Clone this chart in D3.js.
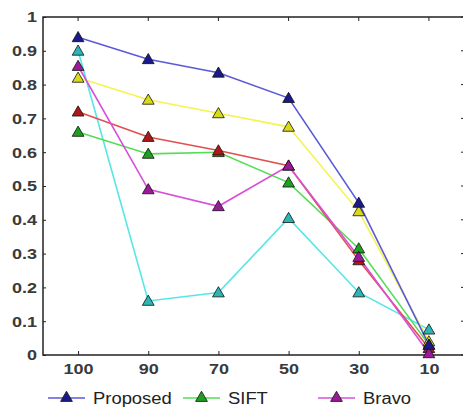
<!DOCTYPE html>
<html><head><meta charset="utf-8">
<script src="https://cdn.jsdelivr.net/npm/d3@7"></script>
<style>body{margin:0;background:#fff;}svg{display:block;}</style>
</head><body>
<svg id="c" width="463" height="414"></svg>
<script>
const categories = ["100","90","70","50","30","10"];
const yTicks = [0,0.1,0.2,0.3,0.4,0.5,0.6,0.7,0.8,0.9,1];
const proposed = [0.94,0.875,0.835,0.76,0.45,0.03];
const yellowSeries = [0.82,0.755,0.715,0.675,0.425,0.04];
const redSeries = [0.72,0.645,0.605,0.56,0.28,0.02];
const sift = [0.66,0.595,0.60,0.51,0.315,0.03];
const bravo = [0.855,0.49,0.44,0.56,0.29,0.005];
const cyanSeries = [0.90,0.16,0.185,0.405,0.185,0.075];

const series = [
  {name:"Cyan", values:cyanSeries, line:"#55e6e6", fill:"#2bb5b5"},
  {name:"Yellow", values:yellowSeries, line:"#f4f450", fill:"#d9d920"},
  {name:"SIFT", values:sift, line:"#55dd55", fill:"#1f9f1f"},
  {name:"Red", values:redSeries, line:"#e05050", fill:"#b01818"},
  {name:"Bravo", values:bravo, line:"#d84fd8", fill:"#9a1a9a"},
  {name:"Proposed", values:proposed, line:"#5a5ad8", fill:"#1a1a8a"}
];

const svg = d3.select("#c");
const L = 43, T = 17, B = 355, R = 464;
const x = d3.scaleLinear().domain([-0.5, 5.5]).range([L, R]);
const y = d3.scaleLinear().domain([0,1]).range([B, T]);

const font = "Liberation Sans, Arial, sans-serif";
function stretch(sel, k){
  sel.each(function(){
    const w = this.getComputedTextLength();
    d3.select(this).attr("textLength", w*k).attr("lengthAdjust","spacingAndGlyphs");
  });
}

// frame
svg.append("rect").attr("x",L).attr("y",T).attr("width",R-L).attr("height",B-T)
  .attr("fill","none").attr("stroke","#222").attr("stroke-width",1.5);

// y axis
const yAxis = d3.axisLeft(y).tickValues(yTicks).tickSize(-3).tickPadding(6)
  .tickFormat(d => d===0||d===1 ? String(d) : d3.format(".1f")(d));
const gy = svg.append("g").attr("transform",`translate(${L},0)`).call(yAxis);
gy.select(".domain").remove();
gy.selectAll("line").attr("stroke","#222");
gy.selectAll("text").attr("font-family",font).attr("font-size",15).attr("font-weight","bold").attr("fill","#3a3a3a");
stretch(gy.selectAll("text"), 1.2);
// right ticks
svg.append("g").selectAll("line").data(yTicks).join("line")
  .attr("x1",R-3).attr("x2",R).attr("y1",d=>y(d)).attr("y2",d=>y(d)).attr("stroke","#222");

// x axis
const idx = categories.map((c,i)=>i);
const xAxis = d3.axisBottom(x).tickValues(idx).tickSize(-4).tickPadding(8).tickFormat(i=>categories[i]);
const gx = svg.append("g").attr("transform",`translate(0,${B})`).call(xAxis);
gx.select(".domain").remove();
gx.selectAll("line").attr("stroke","#222");
gx.selectAll("text").attr("font-family",font).attr("font-size",15).attr("font-weight","bold").attr("fill","#3a3a3a");
stretch(gx.selectAll("text"), 1.2);
// top ticks
svg.append("g").selectAll("line").data(idx).join("line")
  .attr("x1",d=>x(d)).attr("x2",d=>x(d)).attr("y1",T).attr("y2",T+4).attr("stroke","#222");

const tri = d3.symbol().type(d3.symbolTriangle).size(60);
const line = d3.line().x((d,i)=>x(i)).y(d=>y(d));

series.forEach(s=>{
  svg.append("path").attr("d",line(s.values)).attr("fill","none")
    .attr("stroke",s.line).attr("stroke-width",1.6);
});
series.forEach(s=>{
  svg.append("g").selectAll("path").data(s.values).join("path")
    .attr("d",tri).attr("transform",(d,i)=>`translate(${x(i)},${y(d)+1})`)
    .attr("fill",s.fill).attr("stroke","#111").attr("stroke-width",0.8);
});

// legend
const legendItems = [
  {s:series[5], x:48},
  {s:series[2], x:183},
  {s:series[4], x:318}
];
const ly = 398;
legendItems.forEach(it=>{
  const g = svg.append("g");
  g.append("line").attr("x1",it.x).attr("x2",it.x+37).attr("y1",ly).attr("y2",ly)
    .attr("stroke",it.s.line).attr("stroke-width",1.6);
  g.append("path").attr("d",tri).attr("transform",`translate(${it.x+18.5},${ly})`)
    .attr("fill",it.s.fill).attr("stroke","#111").attr("stroke-width",0.8);
  const t = g.append("text").attr("x",it.x+45).attr("y",ly+6).text(it.s.name)
    .attr("font-family",font).attr("font-size",16).attr("fill","#222");
  stretch(t, 1.15);
});
</script>
</body></html>
